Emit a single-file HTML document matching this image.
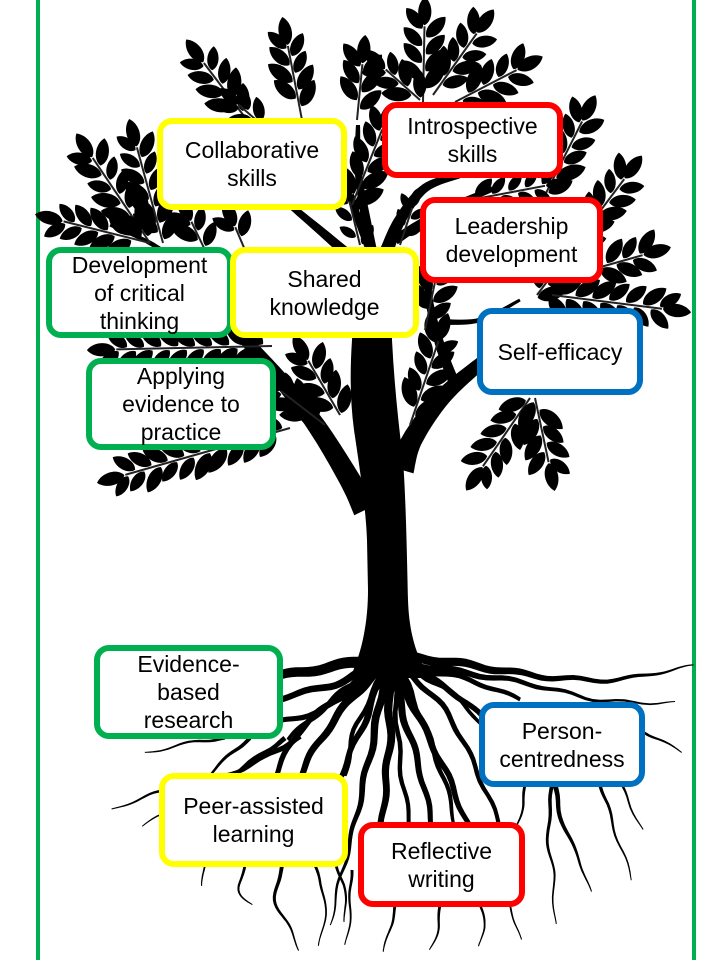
<!DOCTYPE html>
<html><head><meta charset="utf-8">
<style>
html,body{margin:0;padding:0;background:#fff;}
body{width:720px;height:960px;position:relative;overflow:hidden;font-family:"Liberation Sans",Arial,sans-serif;}
.vl{position:absolute;top:0;width:4px;height:960px;background:#00B050;}
.b{position:absolute;box-sizing:border-box;border:6px solid;border-radius:15px;background:#fff;display:flex;align-items:center;justify-content:center;text-align:center;font-size:23px;line-height:28px;color:#000;white-space:nowrap;}
.y{border-color:#FFFF00}.r{border-color:#FF0000}.g{border-color:#00B050}.bl{border-color:#0070C0}
svg{position:absolute;left:0;top:0;}
</style></head><body>
<div class="vl" style="left:36px"></div>
<div class="vl" style="left:692px"></div>
<svg id="t" width="720" height="960" viewBox="0 0 720 960"></svg>
<div class="b y" style="left:157px;top:118px;width:190px;height:92px">Collaborative<br>skills</div>
<div class="b r" style="left:382px;top:102px;width:181px;height:76px">Introspective<br>skills</div>
<div class="b r" style="left:420px;top:197px;width:183px;height:86px">Leadership<br>development</div>
<div class="b g" style="left:46px;top:247px;width:187px;height:91px">Development<br>of critical<br>thinking</div>
<div class="b y" style="left:230px;top:247px;width:189px;height:91px">Shared<br>knowledge</div>
<div class="b bl" style="left:477px;top:308px;width:166px;height:87px">Self-efficacy</div>
<div class="b g" style="left:86px;top:358px;width:190px;height:92px">Applying<br>evidence to<br>practice</div>
<div class="b g" style="left:94px;top:645px;width:189px;height:94px">Evidence-<br>based<br>research</div>
<div class="b bl" style="left:479px;top:702px;width:166px;height:85px">Person-<br>centredness</div>
<div class="b y" style="left:159px;top:773px;width:189px;height:94px">Peer-assisted<br>learning</div>
<div class="b r" style="left:358px;top:822px;width:167px;height:85px">Reflective<br>writing</div>
<script>
var s=[];
var seed=11;function rnd(){seed=(seed*9301+49297)%233280;return seed/233280;}
function f(v){return v.toFixed(1);}
function spline(p,n){
 var out=[];
 for(var i=0;i<p.length-1;i++){
  var p0=p[Math.max(i-1,0)],p1=p[i],p2=p[i+1],p3=p[Math.min(i+2,p.length-1)];
  for(var k=0;k<n;k++){var t=k/n,t2=t*t,t3=t2*t;
   out.push([0.5*((2*p1[0])+(-p0[0]+p2[0])*t+(2*p0[0]-5*p1[0]+4*p2[0]-p3[0])*t2+(-p0[0]+3*p1[0]-3*p2[0]+p3[0])*t3),
             0.5*((2*p1[1])+(-p0[1]+p2[1])*t+(2*p0[1]-5*p1[1]+4*p2[1]-p3[1])*t2+(-p0[1]+3*p1[1]-3*p2[1]+p3[1])*t3)]);}
 }
 out.push(p[p.length-1]);return out;
}
function taper(pts,w0,w1,wob){
 wob=wob||0;
 var q=spline(pts,10),L=[],R=[],n=q.length,len=0,ph=rnd()*6;
 for(var i=0;i<n;i++){
  var a=q[Math.max(i-1,0)],b=q[Math.min(i+1,n-1)];
  var dx=b[0]-a[0],dy=b[1]-a[1],d=Math.hypot(dx,dy)||1;
  if(i>0)len+=Math.hypot(q[i][0]-q[i-1][0],q[i][1]-q[i-1][1]);
  var w=(w0+(w1-w0)*i/(n-1))/2;
  var o=wob*Math.sin(len/9+ph)*Math.min(1,len/20);
  var cx=q[i][0]-dy/d*o,cy=q[i][1]+dx/d*o;
  L.push(f(cx-dy/d*w)+','+f(cy+dx/d*w));
  R.unshift(f(cx+dy/d*w)+','+f(cy-dx/d*w));
 }
 s.push('<polygon points="'+L.join(' ')+' '+R.join(' ')+'"/>');
}
function leaf(x,y,ang,L){
 var W=L*0.3;
 s.push('<path transform="translate('+f(x)+' '+f(y)+') rotate('+f(ang*57.2958)+')" d="M1 0C'+f(L*.2)+' '+f(-W)+' '+f(L*.75)+' '+f(-W)+' '+f(L)+' 0C'+f(L*.75)+' '+f(W)+' '+f(L*.2)+' '+f(W)+' 1 0Z"/>');
}
function twig(x0,y0,x1,y1,L,sp){
 L=L||31;sp=sp||17;
 var dx=x1-x0,dy=y1-y0,D=Math.hypot(dx,dy),ux=dx/D,uy=dy/D,a=Math.atan2(dy,dx);
 var ex=x1-ux*L*0.85,ey=y1-uy*L*0.85,d=D-L*0.85;
 s.push('<line x1="'+x0+'" y1="'+y0+'" x2="'+f(ex)+'" y2="'+f(ey)+'" stroke="#222" stroke-width="2"/>');
 for(var t=d-3;t>5;t-=sp){
  var px=x0+ux*t,py=y0+uy*t,k=0.85+0.15*(1-t/d);
  leaf(px+uy*1.5,py-ux*1.5,a-0.72+0.2*(rnd()-.5),L*k*(0.9+0.2*rnd()));
  var q=t-sp*0.5;
  leaf(x0+ux*q-uy*1.5,y0+uy*q+ux*1.5,a+0.72+0.2*(rnd()-.5),L*k*(0.9+0.2*rnd()));
 }
 leaf(ex,ey,a,L*0.95);
}
/* roots */
var roots=[
 [[[400,656],[450,662],[500,670],[547,677],[613,680],[660,672],[694,666]],10,1],
 [[[405,664],[460,672],[530,684],[600,700],[675,703]],8,1],
 [[[408,668],[450,690],[485,720]],7,5],
 [[[420,670],[470,680],[520,700]],6,4],
 [[[640,730],[662,742],[682,752]],3,1],
 [[[555,785],[565,830],[580,860],[590,892]],5,1],
 [[[552,785],[548,830],[553,875],[555,924]],4,1],
 [[[600,785],[615,830],[632,880]],3.5,1],
 [[[622,785],[642,830]],2.5,1],
 [[[525,785],[520,815],[512,842]],3,1],
 [[[396,668],[420,720],[445,770],[468,825]],8,5],
 [[[404,668],[445,710],[472,760],[500,825]],6,4],
 [[[410,668],[460,700],[490,740],[505,785]],5,2],
 [[[388,668],[390,730],[386,780],[382,825]],9,6],
 [[[392,668],[405,720],[420,770],[432,825]],8,5],
 [[[400,668],[430,740],[450,800],[455,825]],6,3],
 [[[394,672],[400,760],[410,825]],5,4],
 [[[395,905],[390,930],[384,952]],3,1],
 [[[440,905],[437,930],[430,950]],3,1],
 [[[480,905],[486,928],[478,946]],2.5,1],
 [[[510,905],[520,940]],2,1],
 [[[372,660],[330,667],[280,676]],12,9],
 [[[372,666],[335,684],[280,698]],8,6],
 [[[374,672],[330,706],[280,722]],6,5],
 [[[380,668],[345,690],[310,720],[288,740]],6,4],
 [[[300,736],[260,760],[200,785],[150,795],[112,810]],6,1],
 [[[285,738],[240,770],[190,800],[142,826]],5,1],
 [[[225,738],[180,745],[145,753]],3,1],
 [[[250,738],[225,760],[205,778]],4,2],
 [[[378,670],[350,700],[320,740],[300,776]],9,6],
 [[[383,670],[365,720],[340,776]],8,5],
 [[[384,670],[355,730],[345,776]],5,4],
 [[[372,668],[335,700],[300,730],[275,776]],7,5],
 [[[385,672],[375,730],[362,790],[352,835],[340,880],[330,925]],9,1],
 [[[352,870],[350,910],[346,945]],3,1],
 [[[205,865],[202,886]],2,1],
 [[[245,865],[240,890],[252,905]],3,1],
 [[[282,865],[276,900],[290,930],[300,950]],4,1],
 [[[315,865],[325,900],[320,946]],3,1],
 [[[336,865],[346,900],[345,922]],3,1]
];
for(var i=0;i<roots.length;i++)taper(roots[i][0],roots[i][1],roots[i][2],1.6);
/* trunk */
s.push('<path d="M350,678 C363,650 368,620 368,590 L367,540 C366,510 360,470 354,430 C350,400 350,370 352,340 L358,250 L390,250 L392,340 C394,380 398,420 403,460 C406,500 407,560 408,600 C409,630 415,655 430,678 Z"/>');
/* branches */
var br=[
 [[[365,510],[350,480],[318,428],[285,385],[250,345],[230,320]],24,10],
 [[[320,432],[298,412],[270,402]],12,6],
 [[[402,470],[412,440],[440,400],[475,368],[515,338]],24,10],
 [[[455,385],[440,345],[430,305],[428,280]],11,6],
 [[[440,322],[480,320],[520,300]],6,3],
 [[[372,255],[365,215],[358,170],[358,125]],12,4],
 [[[385,255],[400,220],[425,188],[460,175]],14,6],
 [[[395,240],[440,212],[495,188]],10,5],
 [[[352,258],[322,232],[290,205],[262,180]],11,4],
 [[[232,322],[205,290],[175,262],[150,243],[110,225]],9,3],
 [[[350,195],[360,225],[368,248]],8,6]
];
for(var i=0;i<br.length;i++)taper(br[i][0],br[i][1],br[i][2]);
/* twigs with leaves */
var tw=[
 [247,120,188,42],[302,120,283,20],[357,120,365,38],[423,102,425,0],[433,95,492,12],
 [420,100,366,52],[455,102,540,58],[352,205,392,105],[262,125,222,90,26],
 [150,243,78,136],[150,243,38,215],[163,243,130,122],[205,250,180,198],[245,250,225,203],
 [272,346,90,350],[290,428,100,482],
 [340,415,295,338],[325,425,260,375],[410,425,447,316],[425,330,442,248],
 [360,245,345,183,22],[400,245,418,190,22],
 [545,195,594,98],[537,295,640,158],[552,295,688,312],[530,398,468,488],[535,398,554,488],
 [470,200,565,182,24],[590,270,668,248]
];
for(var i=0;i<tw.length;i++)twig(tw[i][0],tw[i][1],tw[i][2],tw[i][3],tw[i][4]);
document.getElementById('t').innerHTML='<g fill="#000">'+s.join('')+'</g>';
</script>
</body></html>
